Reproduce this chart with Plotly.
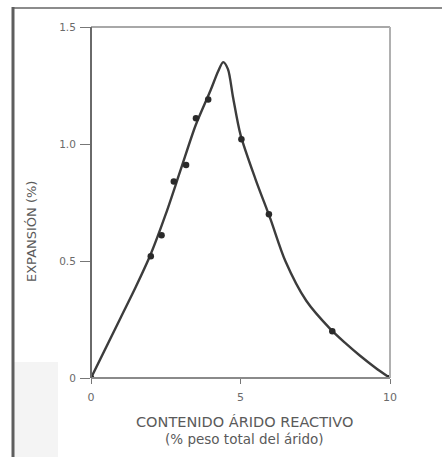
import plotly.graph_objects as go

# Measured expansion points (reactive aggregate content vs. expansion)
contenido = [0.0, 2.0, 2.36, 2.77, 3.18, 3.51, 3.92, 5.03, 5.95, 8.07, 10.0]
expansion = [0.0, 0.52, 0.61, 0.84, 0.91, 1.11, 1.19, 1.02, 0.70, 0.20, 0.0]

# Fitted pessimum curve, read along its path
curva_x = [0.0, 1.0, 1.5, 2.0, 2.5, 3.0, 3.5, 4.0, 4.25, 4.42, 4.58, 4.75, 5.0, 5.5, 6.0, 6.5, 7.2, 8.0, 8.5, 9.0, 9.5, 10.0]
curva_y = [0.0, 0.26, 0.39, 0.53, 0.70, 0.89, 1.08, 1.23, 1.31, 1.35, 1.32, 1.20, 1.04, 0.85, 0.68, 0.50, 0.33, 0.21, 0.15, 0.095, 0.045, 0.0]

y_ticks = [0, 0.5, 1.0, 1.5]
y_labels = ["0", "0.5", "1.0", "1.5"]
x_ticks = [0, 5, 10]
x_labels = ["0", "5", "10"]

TXT = "#5a5a5a"
FONT = "DejaVu Sans"

fig = go.Figure()
fig.add_trace(go.Scatter(
    x=curva_x, y=curva_y, mode="lines",
    line=dict(color="#3c3c3c", width=2.4, shape="spline", smoothing=0.8),
    hoverinfo="skip", showlegend=False,
))
fig.add_trace(go.Scatter(
    x=contenido, y=expansion, mode="markers",
    marker=dict(color="#2a2a2a", size=6.5),
    showlegend=False,
))

L, R, T, B = 91, 52, 27, 79
W, H = 442, 457
pw, ph = W - L - R, H - T - B

def px(xp):
    return (xp - L) / pw

def py(yp):
    return (H - B - yp) / ph

fig.update_layout(
    width=W, height=H,
    margin=dict(l=L, r=R, t=T, b=B, pad=0),
    paper_bgcolor="white", plot_bgcolor="white",
    font=dict(family=FONT, color=TXT, size=9),
    xaxis=dict(
        range=[0, 10], tickvals=x_ticks, ticktext=x_labels,
        showgrid=False, zeroline=False, showline=False,
        ticks="outside", ticklen=5, tickcolor="#777", tickwidth=1,
        ticklabelstandoff=4,
        tickfont=dict(size=11, color="#6a6a6a", family=FONT),
    ),
    yaxis=dict(
        range=[0, 1.5], tickvals=y_ticks, ticktext=y_labels,
        showgrid=False, zeroline=False, showline=False,
        ticks="outside", ticklen=10, tickcolor="#777", tickwidth=1,
        ticklabelstandoff=2,
        tickfont=dict(size=10.5, color="#6a6a6a", family=FONT),
    ),
    shapes=[
        # plot frame
        dict(type="line", xref="paper", yref="paper", x0=0, x1=1, y0=1, y1=1,
             line=dict(color="#a8a8a8", width=2)),
        dict(type="line", xref="paper", yref="paper", x0=1, x1=1, y0=0, y1=1,
             line=dict(color="#b0b0b0", width=2)),
        dict(type="line", xref="paper", yref="paper", x0=0, x1=1, y0=0, y1=0,
             line=dict(color="#8a8a8a", width=2)),
        dict(type="line", xref="paper", yref="paper", x0=0, x1=0, y0=0, y1=1,
             line=dict(color="#6a6a6a", width=2)),
        # outer page frame
        dict(type="rect", xref="paper", yref="paper", x0=px(14), x1=px(58),
             y0=py(457), y1=py(362), line=dict(width=0), fillcolor="#f4f4f4",
             layer="below"),
        dict(type="line", xref="paper", yref="paper", x0=px(12), x1=px(442),
             y0=py(8), y1=py(8), line=dict(color="#8c8c8c", width=2)),
        dict(type="line", xref="paper", yref="paper", x0=px(13), x1=px(13),
             y0=py(7), y1=py(457), line=dict(color="#5e5e5e", width=3)),
    ],
    annotations=[
        dict(text="EXPANSIÓN (%)", xref="paper", yref="paper",
             x=px(31), y=py(232), textangle=-90, showarrow=False,
             font=dict(size=13, color=TXT, family=FONT),
             xanchor="center", yanchor="middle"),
        dict(text="CONTENIDO ÁRIDO REACTIVO", xref="paper", yref="paper",
             x=px(244), y=py(422), showarrow=False,
             font=dict(size=14.5, color=TXT, family=FONT),
             xanchor="center", yanchor="middle"),
        dict(text="(% peso total del árido)", xref="paper", yref="paper",
             x=px(244), y=py(439), showarrow=False,
             font=dict(size=13.5, color=TXT, family=FONT),
             xanchor="center", yanchor="middle"),
    ],
)

fig.write_html("out.html")
